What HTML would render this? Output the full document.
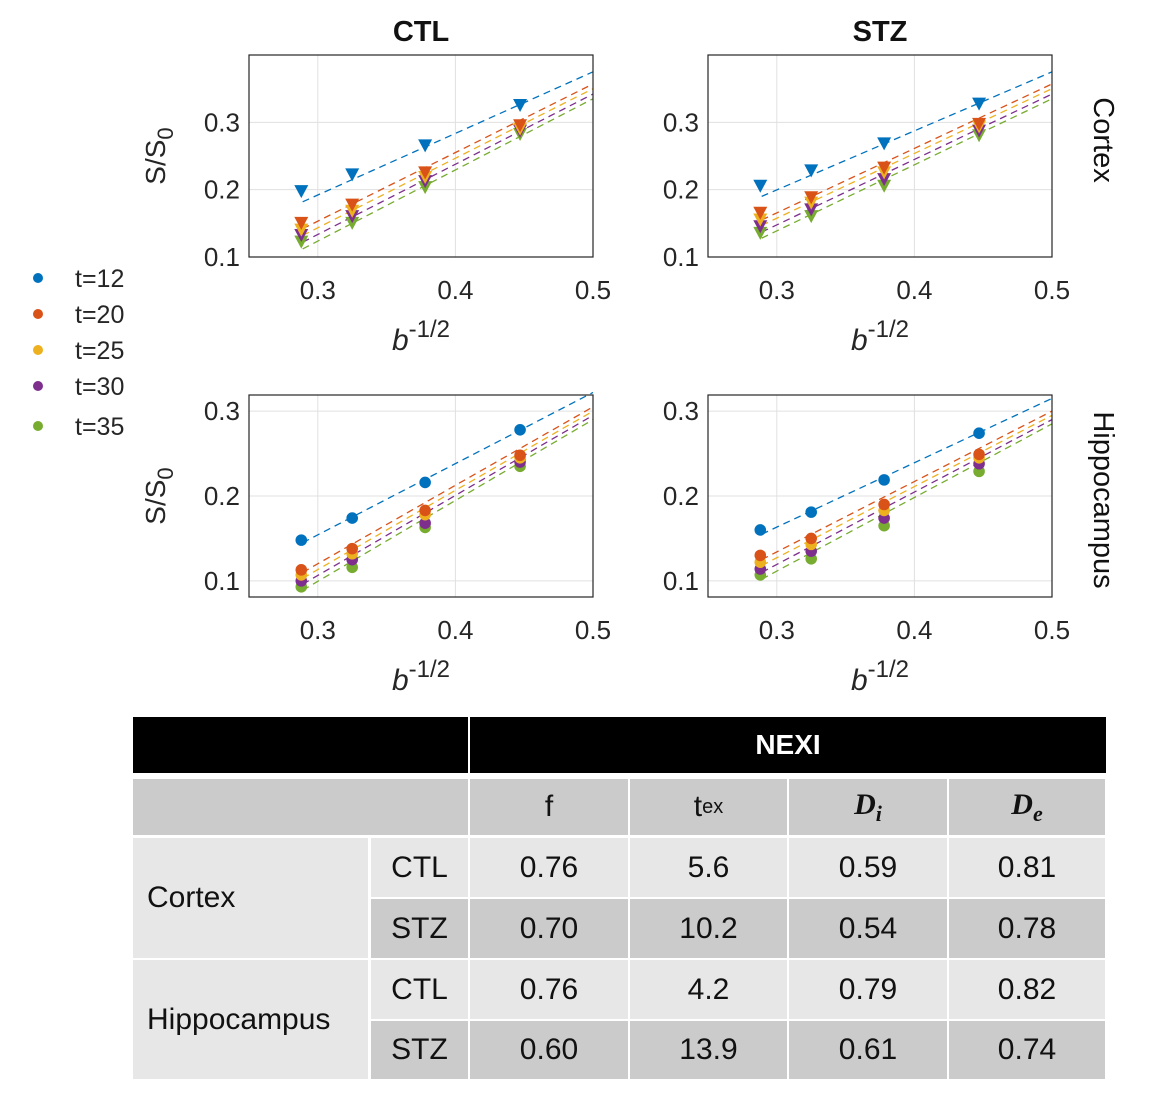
<!DOCTYPE html>
<html><head><meta charset="utf-8">
<style>
body{margin:0;background:#fff;width:1155px;height:1095px;position:relative;overflow:hidden;font-family:"Liberation Sans",sans-serif}
svg{position:absolute;left:0;top:0}
.c{position:absolute;display:flex;align-items:center;justify-content:center;font-size:30px;color:#111;box-sizing:border-box}
</style></head><body>
<svg id="chart" width="1155" height="710"></svg>
<div id="table"></div>
<script>
const xVals=[0.288,0.325,0.378,0.447];
const tickX=[0.3,0.4,0.5];
const colors=['#0072BD','#D95319','#EDB120','#7E2F8E','#77AC30'];
const seriesNames=['t=12','t=20','t=25','t=30','t=35'];
// Cortex CTL
const cc=[[0.197,0.222,0.265,0.325],[0.150,0.177,0.225,0.295],[0.140,0.168,0.218,0.290],[0.132,0.160,0.212,0.287],[0.122,0.150,0.203,0.282]];
const ccLine0=[0.182,0.142,0.132,0.122,0.112];
const ccLine1=[0.375,0.357,0.350,0.342,0.335];
// Cortex STZ
const cs=[[0.205,0.228,0.268,0.327],[0.165,0.188,0.232,0.297],[0.155,0.180,0.225,0.293],[0.145,0.170,0.215,0.287],[0.135,0.160,0.205,0.280]];
const csLine0=[0.190,0.155,0.147,0.137,0.128];
const csLine1=[0.375,0.357,0.350,0.342,0.335];
// Hippocampus CTL
const hc=[[0.148,0.174,0.216,0.278],[0.113,0.138,0.183,0.248],[0.107,0.132,0.178,0.245],[0.100,0.125,0.168,0.240],[0.093,0.116,0.163,0.235]];
const hcLine0=[0.145,0.110,0.103,0.096,0.089];
const hcLine1=[0.322,0.305,0.300,0.295,0.290];
// Hippocampus STZ
const hs=[[0.160,0.181,0.219,0.274],[0.130,0.150,0.190,0.249],[0.122,0.143,0.183,0.245],[0.114,0.135,0.174,0.238],[0.107,0.126,0.165,0.229]];
const hsLine0=[0.155,0.125,0.118,0.110,0.102];
const hsLine1=[0.315,0.300,0.295,0.290,0.285];
const yTicksTop=[0.1,0.2,0.3];

const svg=document.getElementById('chart');
const NS='http://www.w3.org/2000/svg';
function mk(tag,attrs,parent){const e=document.createElementNS(NS,tag);for(const k in attrs)e.setAttribute(k,attrs[k]);(parent||svg).appendChild(e);return e;}

function panel(name,L,R,T,B,ymin,ymax,data,l0,l1,marker,showY){
  const g=mk('g',{});
  
  
  const sx=v=>L+(v-0.25)/(0.5-0.25)*(R-L);
  const sy=v=>B-(v-ymin)/(ymax-ymin)*(B-T);
  mk('rect',{x:L,y:T,width:R-L,height:B-T,fill:'#fff'},g);
  tickX.forEach(t=>{
    mk('line',{x1:sx(t),x2:sx(t),y1:T,y2:B,stroke:'#e0e0e0','stroke-width':1},g);
    const tx=mk('text',{x:sx(t),y:B+42,'text-anchor':'middle','font-size':26,fill:'#262626'},g);
    tx.textContent=t.toFixed(1);
    
    
  });
  yTicksTop.forEach(t=>{
    mk('line',{x1:L,x2:R,y1:sy(t),y2:sy(t),stroke:'#e0e0e0','stroke-width':1},g);
    const ty=mk('text',{x:L-9,y:sy(t)+9,'text-anchor':'end','font-size':26,fill:'#262626'},g);
    ty.textContent=t.toFixed(1);
    
    
  });
  for(let s=0;s<5;s++){
    const ln=mk('line',{x1:sx(0.289),y1:sy(l0[s]),x2:sx(0.5),y2:sy(l1[s]),stroke:colors[s],'stroke-width':1.3,'stroke-dasharray':'7,5'},g);
    
    
  }
  for(let s=4;s>=0;s--){
    data[s].forEach((v,i)=>{
      const x=sx(xVals[i]),y=sy(v);let m;
      if(marker==='tri'){m=mk('polygon',{points:`${x-7},${y-6.5} ${x+7},${y-6.5} ${x},${y+6.5}`,fill:colors[s]},g);}
      else{m=mk('circle',{cx:x,cy:y,r:5.8,fill:colors[s]},g);}
      
      
    });
  }
  mk('rect',{x:L,y:T,width:R-L,height:B-T,fill:'none',stroke:'#262626','stroke-width':1.2},g);
  const xl=mk('text',{x:(L+R)/2,y:B+93,'text-anchor':'middle','font-size':30,fill:'#262626'},g);
  xl.innerHTML='<tspan font-style="italic">b</tspan><tspan dy="-13" font-size="24">-1/2</tspan>';
  
  
  if(showY){
    const yl=mk('text',{x:0,y:0,'text-anchor':'middle','font-size':28,fill:'#262626',transform:`translate(${L-84},${(T+B)/2}) rotate(-90)`},g);
    yl.innerHTML='S/S<tspan dy="8" font-size="22">0</tspan>';
    
    
  }
}
panel('cortex-ctl-plot',249,593,55,257,0.1,0.4,cc,ccLine0,ccLine1,'tri',true);
panel('cortex-stz-plot',708,1052,55,257,0.1,0.4,cs,csLine0,csLine1,'tri',false);
panel('hippocampus-ctl-plot',249,593,395,597,0.081,0.319,hc,hcLine0,hcLine1,'dot',true);
panel('hippocampus-stz-plot',708,1052,395,597,0.081,0.319,hs,hsLine0,hsLine1,'dot',false);

function txt(s,attrs,name){const t=mk('text',attrs);t.textContent=s;return t;}
txt('CTL',{x:421,y:41,'text-anchor':'middle','font-size':29,'font-weight':'bold',fill:'#111'},'column-title-ctl');
txt('STZ',{x:880,y:41,'text-anchor':'middle','font-size':29,'font-weight':'bold',fill:'#111'},'column-title-stz');
txt('Cortex',{x:0,y:0,'text-anchor':'middle','font-size':29,fill:'#111',transform:'translate(1094,140) rotate(90)'},'row-title-cortex');
txt('Hippocampus',{x:0,y:0,'text-anchor':'middle','font-size':29,fill:'#111',transform:'translate(1094,500) rotate(90)'},'row-title-hippocampus');
const legY=[278,314,350,386,426];
seriesNames.forEach((n,i)=>{
  const c=mk('circle',{cx:38,cy:legY[i],r:5,fill:colors[i]});
  
  
  txt(n,{x:75,y:legY[i]+9,'font-size':25,fill:'#262626'},'legend-entry');
});

const colX=[133,370,469,629,788,948,1106];
const rowY=[[838,897],[899,958],[960,1019],[1021,1079]];
function cell(x1,y1,x2,y2,bg,html,name,extra){
  const d=document.createElement('div');d.className='c';
  d.style.cssText=`left:${x1}px;top:${y1}px;width:${x2-x1}px;height:${y2-y1}px;background:${bg};`+(extra||'');
  d.innerHTML=html;
  
  
  document.body.appendChild(d);
}
const LIGHT='#e7e7e7',DARK='#cbcbcb';
cell(133,717,468,773,'#000','','header-blank');
cell(470,717,1106,773,'#000','NEXI','header-nexi','color:#fff;font-weight:bold;font-size:28px;');
cell(133,779,468,835,DARK,'','subheader-blank');
const heads=['f','t<sub style="font-size:20px">ex</sub>','<b><i style="font-family:\'Liberation Serif\',serif">D<sub style="font-size:22px">i</sub></i></b>','<b><i style="font-family:\'Liberation Serif\',serif">D<sub style="font-size:22px">e</sub></i></b>'];
heads.forEach((h,i)=>cell(colX[i+2]+1,779,colX[i+3]-1,835,DARK,h,'param-header'));
cell(133,838,368,958,LIGHT,'Cortex','region-cortex','justify-content:flex-start;padding-left:14px;');
cell(133,960,368,1079,LIGHT,'Hippocampus','region-hippocampus','justify-content:flex-start;padding-left:14px;');
const groups=['CTL','STZ','CTL','STZ'];
const vals=[['0.76','5.6','0.59','0.81'],['0.70','10.2','0.54','0.78'],['0.76','4.2','0.79','0.82'],['0.60','13.9','0.61','0.74']];
rowY.forEach((r,ri)=>{
  const bg=ri%2?DARK:LIGHT;
  cell(371,r[0],468,r[1],bg,groups[ri],'group-label');
  vals[ri].forEach((v,ci)=>cell(colX[ci+2]+1,r[0],colX[ci+3]-1,r[1],bg,v,'value-cell'));
});
</script>
</body></html>
